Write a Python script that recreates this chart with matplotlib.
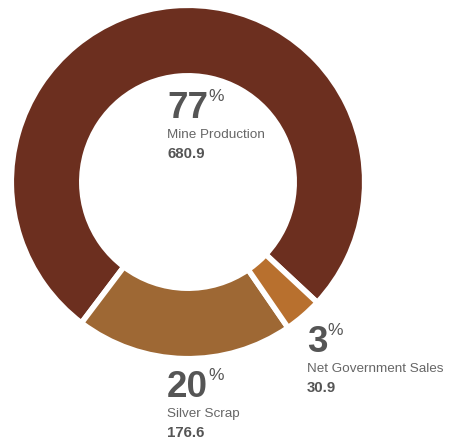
import matplotlib
matplotlib.use('Agg')
import matplotlib.pyplot as plt

# Silver supply components
labels = ['Mine Production', 'Silver Scrap', 'Net Government Sales']
values = [680.9, 176.6, 30.9]
colors = ['#6C2F1F', '#9E6834', '#B8702E']

W, H = 454, 443
plt.rcParams['font.family'] = ['Liberation Sans', 'DejaVu Sans']

fig = plt.figure(figsize=(W / 100, H / 100), dpi=100)
ax = fig.add_axes([0, 0, 1, 1])

ax.pie(values, colors=colors, startangle=-43, counterclock=True,
       radius=176.7, center=(188, H - 182),
       wedgeprops=dict(width=70.5, edgecolor='white', linewidth=4))

ax.set_xlim(0, W)
ax.set_ylim(0, H)
ax.set_aspect('equal')
ax.axis('off')

total = sum(values)
# (left x, baseline y of big number) in pixels from top-left
label_pos = [(167, 118), (167, 397), (307, 352)]

for name, val, (x, y) in zip(labels, values, label_pos):
    pct = round(val / total * 100)
    big = ax.text(x, H - y, f'{pct}', fontsize=26.5, fontweight='bold',
                  color='#555555', ha='left', va='baseline')
    ax.annotate('%', xy=(1, 1), xycoords=big, xytext=(0, 1.5),
                textcoords='offset points', fontsize=12.5, color='#555555',
                ha='left', va='top')
    ax.text(x, H - (y + 20), name, fontsize=9.7, color='#666666',
            ha='left', va='baseline')
    ax.text(x, H - (y + 40), f'{val:.1f}', fontsize=10.8, fontweight='bold',
            color='#555555', ha='left', va='baseline')

fig.savefig('out.png', dpi=100)
